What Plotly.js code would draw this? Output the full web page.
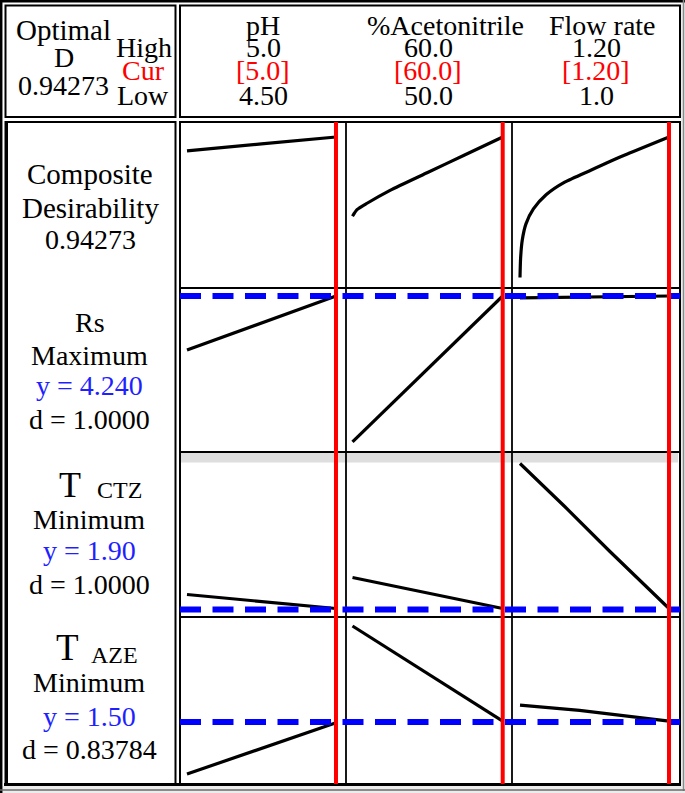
<!DOCTYPE html>
<html><head><meta charset="utf-8">
<script src="https://cdn.plot.ly/plotly-3.0.1.min.js"></script>
<style>html,body{margin:0;padding:0;background:#fff;}#chart{width:685px;height:793px;}</style>
</head><body><div id="chart"></div>
<script>
// ---------------- data ----------------
const factorNames = ['pH', '%Acetonitrile', 'Flow rate'];
const highLabels = ['5.0', '60.0', '1.20'];
const curLabels = ['[5.0]', '[60.0]', '[1.20]'];
const lowLabels = ['4.50', '50.0', '1.0'];
const lowVals = [4.5, 50, 1.0];
const highVals = [5.0, 60, 1.2];
const curVals = [5.0, 60, 1.2];
const optimalD = '0.94273';

// Composite desirability
const compX_pH = [4.5, 4.75, 5.0];
const compY_pH = [0.850, 0.897, 0.943];
const compX_ACN = [50, 50.3, 51, 52.5, 55, 57.5, 60];
const compY_ACN = [0.411, 0.455, 0.500, 0.585, 0.705, 0.824, 0.943];
const compX_FR = [1.0, 1.0008, 1.003, 1.008, 1.018, 1.035, 1.06, 1.095, 1.14, 1.2];
const compY_FR = [0.0, 0.13, 0.25, 0.36, 0.46, 0.555, 0.64, 0.72, 0.82, 0.943];

// Rs (Maximum)
const rsX_pH = [4.5, 4.75, 5.0];
const rsY_pH = [3.34, 3.79, 4.24];
const rsX_ACN = [50, 55, 60];
const rsY_ACN = [1.81, 3.025, 4.24];
const rsX_FR = [1.0, 1.1, 1.2];
const rsY_FR = [4.21, 4.225, 4.24];
const rsTarget = 4.240;

// T CTZ (Minimum)
const ctzX_pH = [4.5, 4.75, 5.0];
const ctzY_pH = [2.20, 2.06, 1.92];
const ctzX_ACN = [50, 55, 60];
const ctzY_ACN = [2.54, 2.23, 1.92];
const ctzX_FR = [1.0, 1.06, 1.12, 1.2];
const ctzY_FR = [4.82, 3.96, 3.07, 1.92];
const ctzTarget = 1.90;
const ctzBandLow = 4.84;

// T AZE (Minimum)
const azeX_pH = [4.5, 4.68, 4.84, 5.0];
const azeY_pH = [0.85, 1.08, 1.28, 1.49];
const azeX_ACN = [50, 53.6, 56.4, 60];
const azeY_ACN = [2.70, 2.27, 1.93, 1.51];
const azeX_FR = [1.0, 1.08, 1.13, 1.2];
const azeY_FR = [1.71, 1.645, 1.59, 1.51];
const azeTarget = 1.50;

const compLabel = ['Composite', 'Desirability', '0.94273'];
const rsLabel = ['Rs', 'Maximum', 'y = 4.240', 'd = 1.0000'];
const ctzLabel = ['T', 'CTZ', 'Minimum', 'y = 1.90', 'd = 1.0000'];
const azeLabel = ['T', 'AZE', 'Minimum', 'y = 1.50', 'd = 0.83784'];

// ---------------- layout helpers ----------------
const W = 685, H = 793;
const px = v => v / W;
const py = v => 1 - v / H;
const colEdges = [180, 346, 512, 679];
const rowEdges = [122, 288, 452, 617, 784];
const xRanges = [[4.4765, 5.0336], [49.567, 60.619], [0.98926, 1.21342]];
const yRanges = [[-0.0705, 1.0437], [1.64, 4.373], [1.75, 5.05], [0.725, 2.8125]];

const curves = [
  [[compX_pH, compY_pH], [compX_ACN, compY_ACN], [compX_FR, compY_FR]],
  [[rsX_pH, rsY_pH], [rsX_ACN, rsY_ACN], [rsX_FR, rsY_FR]],
  [[ctzX_pH, ctzY_pH], [ctzX_ACN, ctzY_ACN], [ctzX_FR, ctzY_FR]],
  [[azeX_pH, azeY_pH], [azeX_ACN, azeY_ACN], [azeX_FR, azeY_FR]]
];
const targets = [null, rsTarget, ctzTarget, azeTarget];

const xName = c => c === 0 ? 'x' : 'x' + (c + 1);
const yName = r => r === 0 ? 'y' : 'y' + (r + 1);

const traces = [];
curves.forEach((row, r) => row.forEach((cv, c) => {
  traces.push({
    type: 'scatter', mode: 'lines', x: cv[0], y: cv[1],
    xaxis: xName(c), yaxis: yName(r),
    line: {color: '#000', width: 3.2, shape: r === 0 ? 'spline' : 'linear', smoothing: 0.6},
    hoverinfo: 'skip', showlegend: false
  });
}));

const layout = {
  width: W, height: H, margin: {l: 0, r: 0, t: 0, b: 0},
  paper_bgcolor: '#fff', plot_bgcolor: 'rgba(0,0,0,0)', showlegend: false,
  shapes: [], annotations: []
};
const hidden = {showgrid: false, zeroline: false, showticklabels: false, showline: false, ticks: '', fixedrange: true};
for (let c = 0; c < 3; c++) {
  layout[c === 0 ? 'xaxis' : 'xaxis' + (c + 1)] = Object.assign({
    domain: [px(colEdges[c]), px(colEdges[c + 1])], range: xRanges[c], anchor: 'y'
  }, hidden);
}
for (let r = 0; r < 4; r++) {
  layout[r === 0 ? 'yaxis' : 'yaxis' + (r + 1)] = Object.assign({
    domain: [py(rowEdges[r + 1]), py(rowEdges[r])], range: yRanges[r], anchor: 'x'
  }, hidden);
}

const S = layout.shapes;
const pline = (x0, y0, x1, y1, color, width) => S.push({type: 'line', xref: 'paper', yref: 'paper',
  x0: px(x0), y0: py(y0), x1: px(x1), y1: py(y1), line: {color: color, width: width}});
const prect = (x0, y0, x1, y1, color, width) => S.push({type: 'rect', xref: 'paper', yref: 'paper',
  x0: px(x0), y0: py(y0), x1: px(x1), y1: py(y1), line: {color: color, width: width}});

// gray band in T CTZ row
S.push({type: 'rect', xref: 'paper', yref: 'y3', x0: px(181), x1: px(678), y0: ctzBandLow, y1: yRanges[2][1],
  fillcolor: '#dedede', line: {width: 0}, layer: 'below'});
// outer bevel
S.push({type: 'rect', xref: 'paper', yref: 'paper', x0: px(681), x1: px(685), y0: py(0), y1: py(793), fillcolor: '#ececec', line: {width: 0}});
S.push({type: 'rect', xref: 'paper', yref: 'paper', x0: px(0), x1: px(685), y0: py(786), y1: py(793), fillcolor: '#ececec', line: {width: 0}});
pline(0, 1.2, 685, 1.2, '#000', 2.5);
pline(1.2, 0, 1.2, 793, '#000', 2.5);
pline(683.5, 0, 683.5, 791, '#8a8a8a', 1.5);
pline(0, 790, 685, 790, '#6a6a6a', 1.5);
// boxes
prect(5.5, 5.5, 175.5, 117, '#000', 2);
prect(180, 5.5, 680, 117, '#000', 2);
prect(5.5, 122, 175.5, 784, '#000', 2);
prect(180, 122, 680, 784, '#000', 2);
pline(6.5, 122, 6.5, 784, '#000', 3);
pline(4, 784.5, 681, 784.5, '#000', 3);
// grid lines
[346, 512].forEach(x => pline(x, 122, x, 784, '#000', 1.8));
[288, 452, 617].forEach(y => pline(180, y, 680, y, '#000', 2));

// blue dashed target lines
for (let r = 1; r < 4; r++) {
  S.push({type: 'line', xref: 'paper', yref: yName(r), x0: px(180), x1: px(680), y0: targets[r], y1: targets[r],
    line: {color: '#0000ff', width: 6, dash: '21px,11.5px'}});
}
// red current-setting lines
for (let c = 0; c < 3; c++) {
  S.push({type: 'line', xref: xName(c), yref: 'paper', x0: curVals[c], x1: curVals[c], y0: py(122), y1: py(784),
    line: {color: '#ff0000', width: 4}});
}

// ---------------- text ----------------
const FONT = 'Liberation Serif, Times New Roman, serif';
const A = layout.annotations;
const txt = (t, x, y, size, color) => A.push({text: t, x: px(x), y: py(y), xref: 'paper', yref: 'paper',
  xanchor: 'center', yanchor: 'middle', showarrow: false, font: {family: FONT, size: size, color: color || '#000'}});

const BLUE = '#1f1fff', RED = '#ff0000';
// header left
txt('Optimal', 64, 30, 29);
txt('D', 64, 57, 28);
txt(optimalD, 64, 85, 28);
txt('High', 144, 47, 28);
txt('Cur', 143, 71, 28, RED);
txt('Low', 143, 95, 28);
// header right
const titleX = [263, 445, 602];
const valX = [263, 428, 596];
for (let c = 0; c < 3; c++) {
  txt(factorNames[c], titleX[c], 25, 28);
  txt(highLabels[c], valX[c], 47, 28);
  txt(curLabels[c], valX[c], 71, 28, RED);
  txt(lowLabels[c], valX[c], 95, 28);
}
// row labels
txt(compLabel[0], 90, 174, 29);
txt(compLabel[1], 90, 208, 29);
txt(compLabel[2], 90, 239, 28);

txt(rsLabel[0], 90, 322, 28);
txt(rsLabel[1], 89, 355, 28);
txt(rsLabel[2], 89, 386, 28, BLUE);
txt(rsLabel[3], 89, 420, 28);

txt(ctzLabel[0], 70, 485, 36);
txt(ctzLabel[1], 119, 490, 24);
txt(ctzLabel[2], 89, 519, 28);
txt(ctzLabel[3], 89, 550, 28, BLUE);
txt(ctzLabel[4], 89, 584, 28);

txt(azeLabel[0], 67, 647, 37);
txt(azeLabel[1], 114, 655, 24);
txt(azeLabel[2], 89, 682, 28);
txt(azeLabel[3], 89, 716, 28, BLUE);
txt(azeLabel[4], 89, 749, 28);

Plotly.newPlot('chart', traces, layout, {staticPlot: true, displayModeBar: false});
</script>
</body></html>
